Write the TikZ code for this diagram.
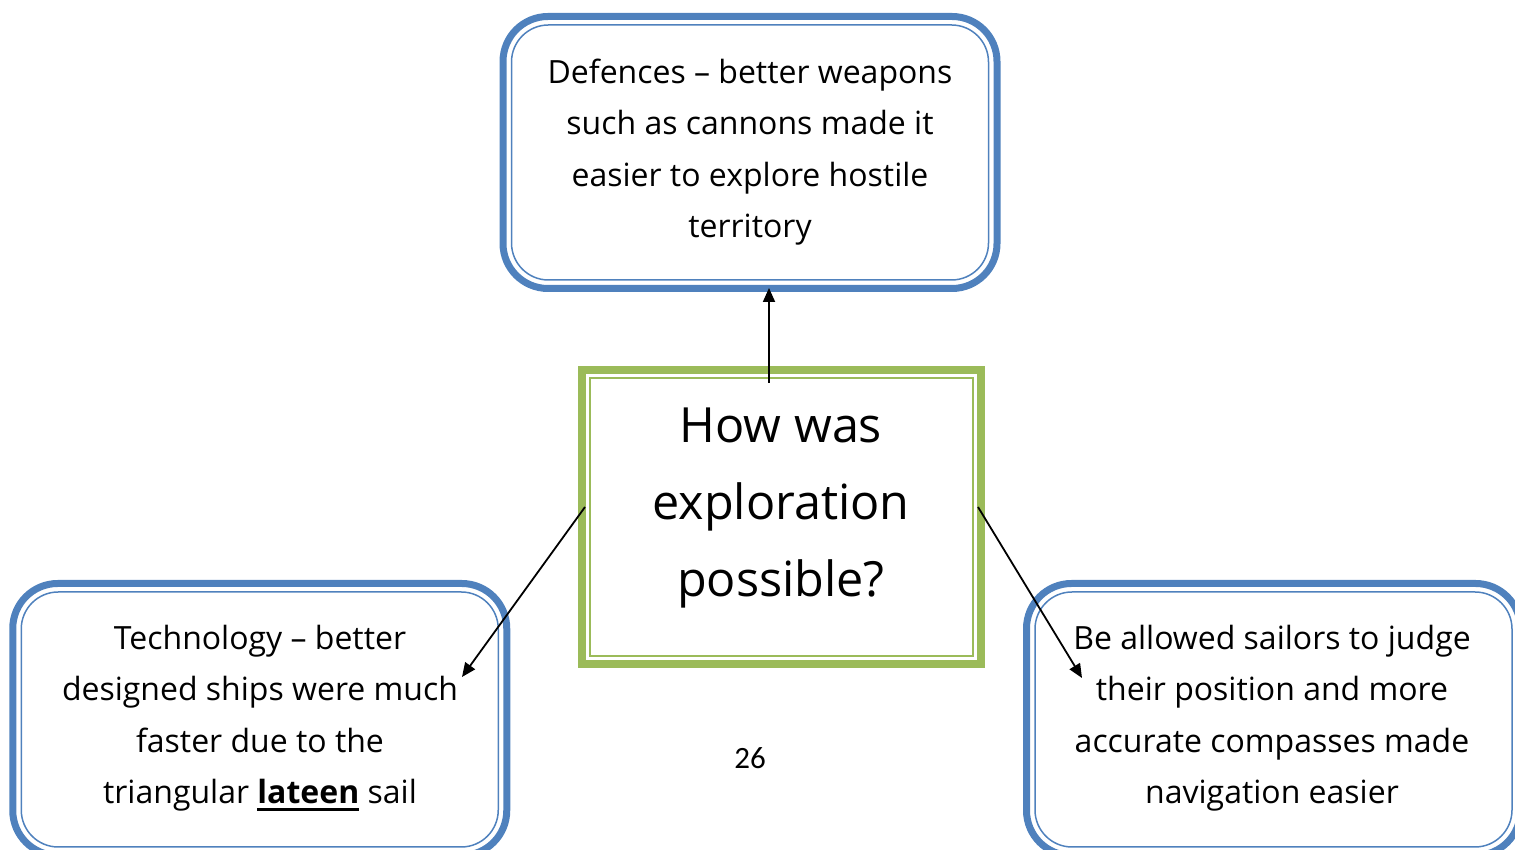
\documentclass[tikz,border=0pt]{standalone}
\usepackage{fontspec}
\setmainfont{Open Sans}
\newfontfamily\numfont{Carlito}
\usetikzlibrary{arrows.meta,calc}
\definecolor{boxblue}{RGB}{79,129,189}
\definecolor{boxgreen}{RGB}{155,187,89}
\newcommand\thickul[1]{\sbox0{#1}\rlap{\rule[-7pt]{\wd0}{2.5pt}}\usebox0}
\tikzset{
 bluebox/.style={draw=boxblue, line width=7pt, rounded corners=45pt, minimum width=494pt, minimum height=272pt, inner sep=0pt, outer sep=0pt},
 blueinner/.style={draw=boxblue, line width=1.5pt, rounded corners=37pt},
 greenbox/.style={draw=boxgreen, line width=8pt, minimum width=399pt, minimum height=294pt, inner sep=0pt, outer sep=0pt},
 greeninner/.style={draw=boxgreen, line width=2pt},
 bodytext/.style={align=center, font=\fontsize{32}{51.5}\selectfont},
 bigtext/.style={align=center, font=\fontsize{48.5}{77}\selectfont},
 conn/.style={line width=1.8pt, -{Triangle[width=12pt,length=14pt]}},
}
\begin{document}
\begin{tikzpicture}[x=1pt,y=1pt]
\useasboundingbox (0,0) rectangle (1515,850);
\clip (0,0) rectangle (1515,850);
% boxes
\node[bluebox] (top) at (750,697.5) {};
\draw[blueinner] ($(top.north west)+(8.5,-8.5)$) rectangle ($(top.south east)+(-8.5,8.5)$);
\node[bluebox] (left) at (259.75,130.5) {};
\draw[blueinner] ($(left.north west)+(8.5,-8.5)$) rectangle ($(left.south east)+(-8.5,8.5)$);
\node[bluebox] (right) at (1273.5,130.5) {};
\draw[blueinner] ($(right.north west)+(8.5,-8.5)$) rectangle ($(right.south east)+(-8.5,8.5)$);
\node[greenbox] (center) at (781.5,333) {};
\draw[greeninner] ($(center.north west)+(8,-8)$) rectangle ($(center.south east)+(-8,8)$);
% texts
\node[bodytext] (toptext) at (750,698) {Defences – better weapons\\such as cannons made it\\easier to explore hostile\\territory};
\node[bodytext] (lefttext) at (260,132) {Technology – better\\designed ships were much\\faster due to the\\triangular \thickul{\textbf{lateen}} sail};
\node[bodytext] (righttext) at (1272,132) {Be allowed sailors to judge\\their position and more\\accurate compasses made\\navigation easier};
\node[bigtext] (centertext) at (781,342) {How was\\exploration\\possible?};
\node[font=\numfont\fontsize{31}{36}\selectfont] (pagenum) at (750,92) {26};
% connectors
\coordinate (upS) at (769,467);
\coordinate (upE) at (769,562);
\coordinate (lS) at (585,343);
\coordinate (lE) at (462,173);
\coordinate (rS) at (978,343);
\coordinate (rE) at (1082,172);
\draw[conn] (upS) -- (upE);
\draw[conn] (lS) -- (lE);
\draw[conn] (rS) -- (rE);
\end{tikzpicture}
\end{document}
